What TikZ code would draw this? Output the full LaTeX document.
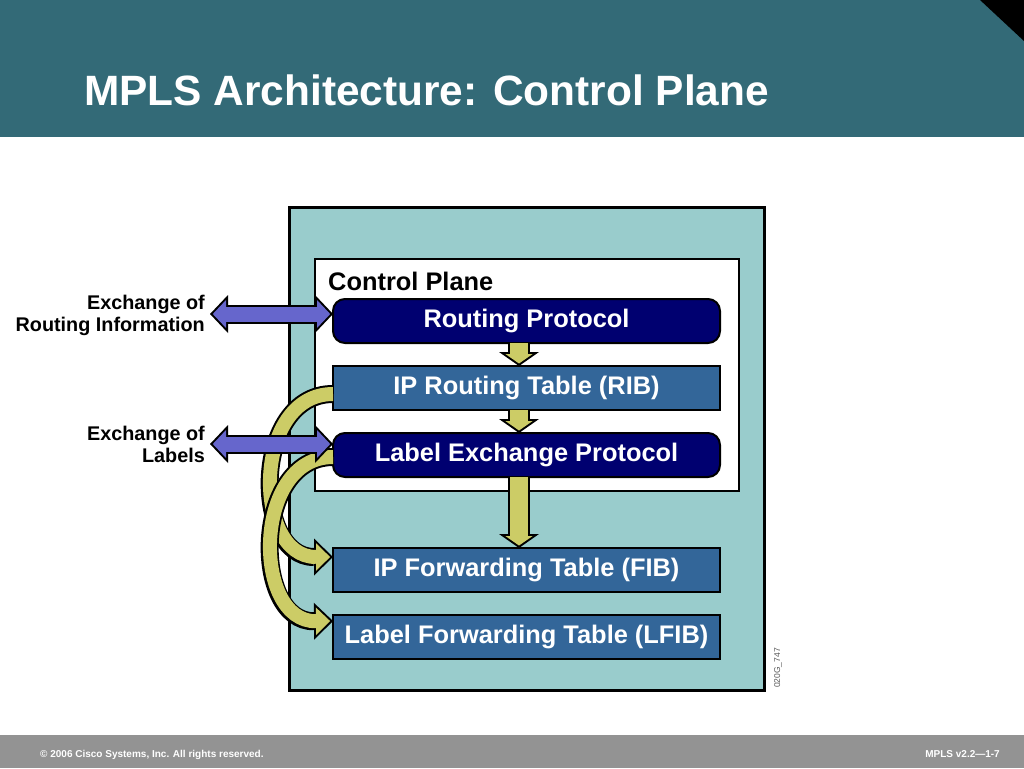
\documentclass[tikz,border=0pt]{standalone}
\usepackage{fontspec}
\setmainfont{Liberation Sans}
\usetikzlibrary{positioning,arrows.meta}
\definecolor{titleteal}{RGB}{51,106,119}
\definecolor{planeteal}{RGB}{153,204,204}
\definecolor{navy}{RGB}{0,0,112}
\definecolor{tableblue}{RGB}{51,102,153}
\definecolor{khaki}{RGB}{204,204,102}
\definecolor{xblue}{RGB}{102,102,204}
\definecolor{footgray}{RGB}{147,147,147}

\begin{document}
\begin{tikzpicture}[x=1pt,y=-1pt,node distance=23pt,
  tbox/.style={draw=black,line width=2pt,fill=tableblue,text=white,
    font=\bfseries\fontsize{25.4}{28}\selectfont,
    minimum width=387pt,minimum height=44pt,inner sep=0pt,outer sep=0pt},
  pbox/.style={tbox,fill=navy,rounded corners=12pt},
  lbl/.style={anchor=north east,align=right,inner sep=0pt,
    font=\bfseries\fontsize{19.8}{22}\selectfont},
  fatdown/.style={draw=khaki,line width=18pt,shorten >=2.5pt,
    -{Triangle[length=9.5pt,width=27.3pt,line width=0pt]},
    preaction={draw=black,line width=22pt,shorten >=0pt,
      -{Triangle[length=14pt,width=40pt,line width=0pt]}}},
  fatcurve/.style={draw=khaki,line width=14pt,shorten >=2.9pt,
    -{Triangle[length=14.1pt,width=27.5pt,line width=0pt]},
    preaction={draw=black,line width=18pt,shorten >=0pt,
      -{Triangle[length=19pt,width=37pt,line width=0pt]}}},
  fatboth/.style={draw=xblue,line width=15pt,shorten >=2.8pt,shorten <=2.8pt,
    {Triangle[length=13.2pt,width=27.9pt,line width=0pt]}-{Triangle[length=13.2pt,width=27.9pt,line width=0pt]},
    preaction={draw=black,line width=19pt,shorten >=0pt,shorten <=0pt,
      {Triangle[length=18pt,width=38pt,line width=0pt]}-{Triangle[length=18pt,width=38pt,line width=0pt]}}}]
\useasboundingbox (0,0) rectangle (1024,768);
\fill[white] (0,0) rectangle (1024,768);
\fill[titleteal] (0,0) rectangle (1024,137);
\fill[black] (980,0) -- (1024,0) -- (1024,41) -- cycle;
\node[anchor=base west,inner sep=0pt,text=white,font=\bfseries\fontsize{42.4}{48}\selectfont] (title) at (84,105) {MPLS Architecture: Control Plane};

\draw[line width=3pt,fill=planeteal] (289,207) rectangle (764,690);
\draw[line width=2.5pt,fill=white] (315,259) rectangle (739,491);
\node[anchor=base west,inner sep=0pt,font=\bfseries\fontsize{25.4}{28}\selectfont] (cp) at (328,290) {Control Plane};

\node[pbox] (rp) at (526.5,321) {Routing Protocol};
\node[tbox] (rib) [below=of rp] {IP Routing Table (RIB)};
\node[pbox] (lep) [below=of rib] {Label Exchange Protocol};
\node[tbox] (fib) [below=71pt of lep] {IP Forwarding Table (FIB)};
\node[tbox] (lfib) [below=of fib] {Label Forwarding Table (LFIB)};

\draw[fatdown] ([xshift=-7.5pt]rp.south) -- ([xshift=-7.5pt]rib.north);
\draw[fatdown] ([xshift=-7.5pt]rib.south) -- ([xshift=-7.5pt]lep.north);
\draw[fatdown] ([xshift=-7.5pt]lep.south) -- ([xshift=-7.5pt]fib.north);

\draw[fatcurve] ([yshift=-6pt]rib.west) .. controls (252,394) and (252,557) .. ([yshift=13pt]fib.west);
\draw[fatcurve] ([yshift=-2pt]lep.west) .. controls (252,457) and (252,622) .. ([yshift=16pt]lfib.west);

\node[lbl] (xri) at (205,294.5) {Exchange of\\Routing Information};
\node[lbl] (xlb) at (205,425.5) {Exchange of\\Labels};
\coordinate (riend) at (210,314);
\coordinate (lbend) at (210,444);
\draw[fatboth] (riend) -- ([yshift=7pt]rp.west);
\draw[fatboth] (lbend) -- ([yshift=11pt]lep.west);

\node[rotate=90,inner sep=0pt,text=black!65,font=\fontsize{8.5}{10}\selectfont] (code) at (778,668) {020G\_747};

\fill[footgray] (0,735) rectangle (1024,768);
\node[anchor=base west,inner sep=0pt,text=white,font=\bfseries\fontsize{10}{12}\selectfont] (copy) at (40,757) {\textcopyright{} 2006 Cisco Systems, Inc. All rights reserved.};
\node[anchor=base east,inner sep=0pt,text=white,font=\bfseries\fontsize{10}{12}\selectfont] (ver) at (1000,757) {MPLS v2.2---1-7};
\end{tikzpicture}
\end{document}
